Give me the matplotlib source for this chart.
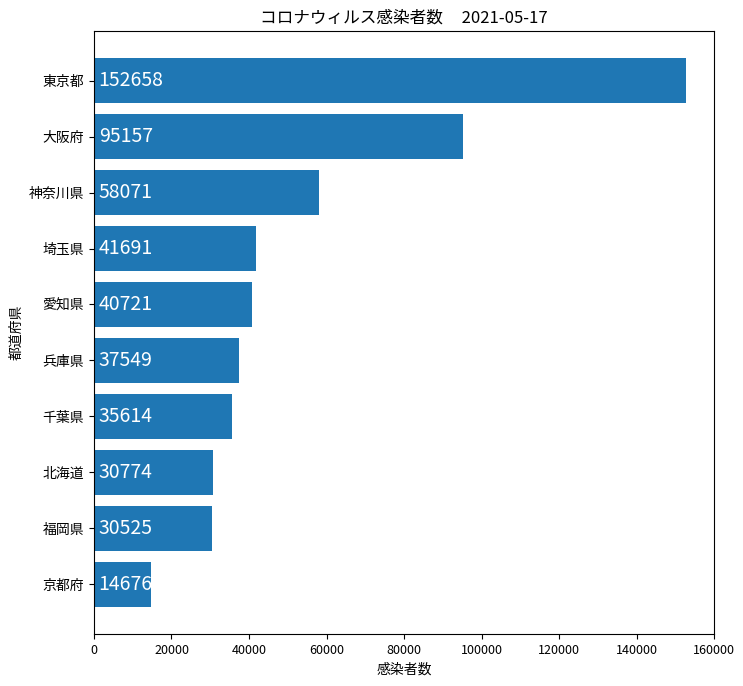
import matplotlib
matplotlib.use("Agg")
import matplotlib.pyplot as plt

plt.rcParams['font.family'] = ['Noto Sans CJK JP', 'DejaVu Sans']

prefectures = ['東京都', '大阪府', '神奈川県', '埼玉県', '愛知県',
               '兵庫県', '千葉県', '北海道', '福岡県', '京都府']
cases = [152658, 95157, 58071, 41691, 40721, 37549, 35614, 30774, 30525, 14676]
date = '2021-05-17'

fig = plt.figure(figsize=(7.43, 6.86), dpi=100)
ax = fig.add_axes([0.1265, 0.0758, 0.8345, 0.8792])

# reverse so the largest is on top
names = prefectures[::-1]
vals = cases[::-1]
bars = ax.barh(names, vals, color='#1f77b4')
for i, v in enumerate(vals):
    ax.text(1200, i, str(v), color='white', fontsize=14, ha='left', va='center')

ax.set_xlim(0, 160000)
ax.set_xticks(range(0, 160001, 20000))
ax.tick_params(axis='x', labelsize=9)
ax.tick_params(axis='y', labelsize=10)
ax.set_title('コロナウィルス感染者数     ' + date, fontsize=12)
ax.set_xlabel('感染者数', fontsize=10)
ax.set_ylabel('都道府県', fontsize=10)

fig.savefig('out.png', dpi=100)
